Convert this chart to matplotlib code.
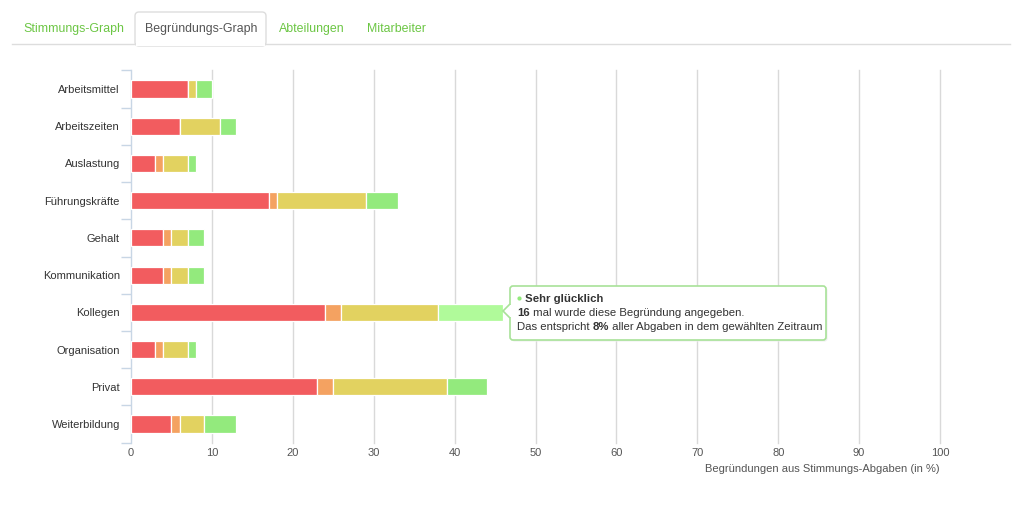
import matplotlib
matplotlib.use("Agg")
import matplotlib.pyplot as plt
from matplotlib.patches import FancyBboxPatch, Polygon, Rectangle, Ellipse
import numpy as np

plt.rcParams['font.family'] = ['Liberation Sans', 'DejaVu Sans']

categories = ["Arbeitsmittel", "Arbeitszeiten", "Auslastung", "Führungskräfte", "Gehalt",
              "Kommunikation", "Kollegen", "Organisation", "Privat", "Weiterbildung"]
sehr_ungluecklich = [7, 6, 3, 17, 4, 4, 24, 3, 23, 5]
ungluecklich = [0, 0, 1, 1, 1, 1, 2, 1, 2, 1]
gluecklich = [1, 5, 3, 11, 2, 2, 12, 3, 14, 3]
sehr_gluecklich = [2, 2, 1, 4, 2, 2, 8, 1, 5, 4]
series = [sehr_ungluecklich, ungluecklich, gluecklich, sehr_gluecklich]
colors = ["#f25c5f", "#f4a261", "#e2d260", "#93ea7d"]
x_ticks = [0, 10, 20, 30, 40, 50, 60, 70, 80, 90, 100]
tabs = ["Stimmungs-Graph", "Begründungs-Graph", "Abteilungen", "Mitarbeiter"]
x_title = "Begründungen aus Stimmungs-Abgaben (in %)"
hover_index = 6

W, H = 1024, 509
fig = plt.figure(figsize=(W / 100, H / 100), dpi=100)
fig.patch.set_facecolor("white")

# main axes
L, R, T, B = 131, 940, 70.4, 442.6
ax = fig.add_axes([L / W, 1 - B / H, (R - L) / W, (B - T) / H])
y = np.arange(len(categories))
left = np.zeros(len(categories))
containers = []
for vals, c in zip(series, colors):
    bc = ax.barh(y, vals, left=left, height=0.46, color=c, edgecolor="white",
                 linewidth=0.9, zorder=3)
    containers.append(bc)
    left = left + np.array(vals)
containers[3].patches[hover_index].set_facecolor("#b0fa9a")

ax.set_xlim(0, 100)
ax.set_ylim(len(categories) - 0.5, -0.5)
ax.set_xticks(x_ticks)
ax.set_xticklabels([str(t) for t in x_ticks], fontsize=8, color="#555555")
ax.set_yticks(y)
ax.set_yticklabels(categories, fontsize=8, color="#333333")
ax.tick_params(axis="y", which="major", length=0, pad=8)
ax.tick_params(axis="x", which="major", length=0, pad=4)
ax.set_yticks(np.arange(-0.5, len(categories), 1), minor=True)
ax.tick_params(axis="y", which="minor", length=7, color="#c8d6e5", width=1)
for t in x_ticks[1:]:
    ax.axvline(t, color="#d9d9d9", lw=1, zorder=1, clip_on=False)
for s in ["top", "right", "bottom"]:
    ax.spines[s].set_visible(False)
ax.spines["left"].set_color("#c8d6e5")
ax.spines["left"].set_linewidth(1)
ax.set_facecolor("white")

# overlay axes in pixel coords
ov = fig.add_axes([0, 0, 1, 1], zorder=10)
ov.set_xlim(0, W)
ov.set_ylim(H, 0)
ov.axis("off")
ov.patch.set_alpha(0)

# axis title
ov.text(940, 469, x_title, ha="right", va="center", fontsize=8, color="#555555")

# tabs
ov.plot([12, 1010], [44, 44], color="#dddddd", lw=1)
tab_box = FancyBboxPatch((135, 12), 131, 34, boxstyle="round,pad=0,rounding_size=4",
                         fc="white", ec="#dddddd", lw=1)
ov.add_patch(tab_box)
ov.add_patch(Rectangle((136, 40), 129, 6, fc="white", ec="none", zorder=5))
tab_x = [23, 145, 279, 367]
for i, (tx, name) in enumerate(zip(tab_x, tabs)):
    ov.text(tx, 28.5, name, ha="left", va="center", fontsize=8.9,
            color="#555555" if i == 1 else "#6cc644", zorder=6)

# tooltip
bx0, by0, bx1, by1 = 510, 286, 826, 340
shadow = FancyBboxPatch((bx0 + 1.5, by0 + 1.5), bx1 - bx0, by1 - by0,
                        boxstyle="round,pad=0,rounding_size=3", fc="#eeeeee", ec="none", zorder=1)
ov.add_patch(shadow)
box = FancyBboxPatch((bx0, by0), bx1 - bx0, by1 - by0,
                     boxstyle="round,pad=0,rounding_size=3", fc="white", ec="#a8e298", lw=1.2, zorder=2)
ov.add_patch(box)
ov.add_patch(Polygon([[bx0, 304], [503, 311], [bx0, 318]], closed=False, fc="white",
                     ec="#a8e298", lw=1.2, zorder=3))
ov.add_patch(Rectangle((bx0 - 0.2, 305), 1.6, 12, fc="white", ec="none", zorder=4))
ov.add_patch(Ellipse((519.5, 298.5), 4.2, 4.2, fc="#93ea7d", ec="none", zorder=6))

fig.canvas.draw()
renderer = fig.canvas.get_renderer()
inv = ov.transData.inverted()


def rich(x, yy, parts, fs=8.2):
    for txt, bold, col in parts:
        t = ov.text(x, yy, txt, ha="left", va="center", fontsize=fs, color=col,
                    fontweight="bold" if bold else "normal", zorder=6)
        bb = t.get_window_extent(renderer)
        x = inv.transform((bb.x1, bb.y0))[0]


rich(525, 298.5, [("Sehr glücklich", True, "#333333")])
rich(517, 312.5, [("16", True, "#333333"), (" mal wurde diese Begründung angegeben.", False, "#333333")])
rich(517, 326.5, [("Das entspricht ", False, "#333333"), ("8%", True, "#333333"),
                  (" aller Abgaben in dem gewählten Zeitraum", False, "#333333")])

fig.savefig("out.png", dpi=100, facecolor="white")
